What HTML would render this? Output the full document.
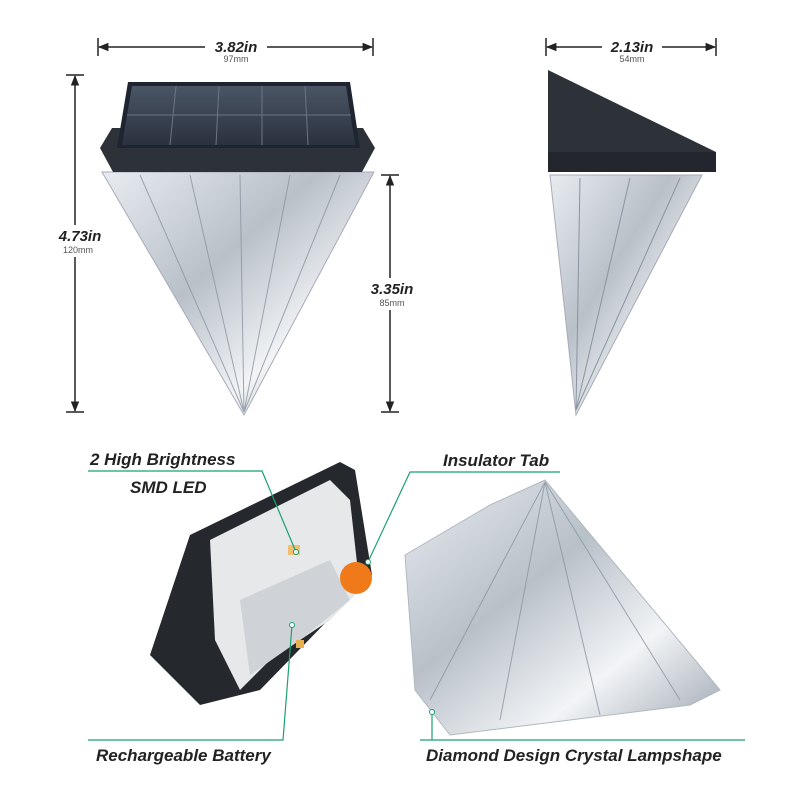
<!DOCTYPE html>
<html><head><meta charset="utf-8"><style>
html,body{margin:0;padding:0;background:#fff}
svg{display:block}
.b{font-family:"Liberation Sans",sans-serif;font-weight:bold;font-style:italic;fill:#222}
.s{font-family:"Liberation Sans",sans-serif;fill:#555;font-size:9px}
</style></head><body>
<svg width="800" height="800" viewBox="0 0 800 800" xmlns="http://www.w3.org/2000/svg">
<defs>
<linearGradient id="cr" x1="0" y1="0" x2="1" y2="1">
<stop offset="0" stop-color="#e8ecf0"/><stop offset="0.4" stop-color="#b8c0c8"/><stop offset="0.7" stop-color="#f2f4f6"/><stop offset="1" stop-color="#9aa4ae"/></linearGradient>
<linearGradient id="sol" x1="0" y1="0" x2="0" y2="1"><stop offset="0" stop-color="#4a5565"/><stop offset="1" stop-color="#2a323e"/></linearGradient>
<marker id="ar" viewBox="0 0 10 10" refX="9" refY="5" markerWidth="7" markerHeight="7" orient="auto-start-reverse"><path d="M0,1 L10,5 L0,9 z" fill="#222"/></marker>
</defs>
<!-- dimension lines -->
<g stroke="#222" stroke-width="1.5">
<line x1="99" y1="47" x2="372" y2="47" marker-start="url(#ar)" marker-end="url(#ar)"/>
<line x1="98" y1="38" x2="98" y2="56"/><line x1="373" y1="38" x2="373" y2="56"/>
<line x1="547" y1="47" x2="715" y2="47" marker-start="url(#ar)" marker-end="url(#ar)"/>
<line x1="546" y1="38" x2="546" y2="56"/><line x1="716" y1="38" x2="716" y2="56"/>
<line x1="75" y1="76" x2="75" y2="411" marker-start="url(#ar)" marker-end="url(#ar)"/>
<line x1="66" y1="75" x2="84" y2="75"/><line x1="66" y1="412" x2="84" y2="412"/>
<line x1="390" y1="176" x2="390" y2="411" marker-start="url(#ar)" marker-end="url(#ar)"/>
<line x1="381" y1="175" x2="399" y2="175"/><line x1="381" y1="412" x2="399" y2="412"/>
</g>
<rect x="205" y="38" width="62" height="28" fill="#fff"/>
<text class="b" x="236" y="52" font-size="15" text-anchor="middle">3.82in</text>
<text class="s" x="236" y="62" text-anchor="middle">97mm</text>
<rect x="602" y="38" width="60" height="28" fill="#fff"/>
<text class="b" x="632" y="52" font-size="15" text-anchor="middle">2.13in</text>
<text class="s" x="632" y="62" text-anchor="middle">54mm</text>
<rect x="50" y="225" width="56" height="32" fill="#fff"/>
<text class="b" x="80" y="241" font-size="15" text-anchor="middle">4.73in</text>
<text class="s" x="78" y="253" text-anchor="middle">120mm</text>
<rect x="364" y="278" width="56" height="32" fill="#fff"/>
<text class="b" x="392" y="294" font-size="15" text-anchor="middle">3.35in</text>
<text class="s" x="392" y="306" text-anchor="middle">85mm</text>
<!-- front lamp -->
<polygon points="102,172 374,172 244,415" fill="url(#cr)" stroke="#aab" stroke-width="1"/>
<g stroke="#8a94a0" stroke-width="1" fill="none" opacity="0.8">
<line x1="140" y1="175" x2="244" y2="412"/><line x1="190" y1="175" x2="244" y2="412"/>
<line x1="240" y1="175" x2="244" y2="412"/><line x1="290" y1="175" x2="244" y2="412"/>
<line x1="340" y1="175" x2="244" y2="412"/>
</g>
<polygon points="100,148 112,128 363,128 375,148 362,172 113,172" fill="#2d3138"/>
<polygon points="128,82 350,82 360,148 117,148" fill="#1e2530"/>
<polygon points="132,86 346,86 355,145 122,145" fill="url(#sol)"/>
<g stroke="#6a7585" stroke-width="1"><line x1="176" y1="86" x2="170" y2="145"/><line x1="219" y1="86" x2="216" y2="145"/><line x1="262" y1="86" x2="262" y2="145"/><line x1="305" y1="86" x2="308" y2="145"/><line x1="127" y1="115" x2="351" y2="115"/></g>
<!-- side lamp -->
<polygon points="548,70 548,152 716,152" fill="#2d3138"/>
<rect x="548" y="152" width="168" height="20" fill="#23272d"/>
<polygon points="550,175 702,175 576,415" fill="url(#cr)" stroke="#aab"/>
<g stroke="#8a94a0" fill="none"><line x1="580" y1="178" x2="576" y2="410"/><line x1="630" y1="178" x2="576" y2="410"/><line x1="680" y1="178" x2="576" y2="410"/></g>
<!-- bottom left housing -->
<polygon points="190,535 340,462 355,470 372,575 260,690 200,705 150,655" fill="#25282d"/>
<polygon points="210,540 330,480 350,500 360,590 330,620 270,660 240,690 215,640" fill="#e6e8ea"/>
<polygon points="240,600 330,560 350,600 300,640 250,675" fill="#cfd3d7"/>
<rect x="288" y="545" width="12" height="10" fill="#f0c070"/>
<rect x="296" y="640" width="8" height="8" fill="#e8b050"/>
<circle cx="356" cy="578" r="16" fill="#f07a1a"/>
<!-- bottom right crystal -->
<polygon points="405,555 490,505 545,480 720,690 690,705 450,735 415,690" fill="url(#cr)" stroke="#b0b8c0"/>
<g stroke="#8a94a0" fill="none" opacity="0.8"><line x1="545" y1="482" x2="430" y2="700"/><line x1="545" y1="482" x2="500" y2="720"/><line x1="545" y1="482" x2="600" y2="715"/><line x1="545" y1="482" x2="680" y2="700"/></g>
<!-- labels -->
<g stroke="#1aa071" stroke-width="1.2" fill="none">
<polyline points="88,471 262,471 296,552"/>
<polyline points="560,472 410,472 368,562"/>
<polyline points="88,740 283,740 292,625"/>
<polyline points="420,740 745,740"/><line x1="432" y1="740" x2="432" y2="712"/>
</g>
<circle cx="296" cy="552" r="2.5" fill="#fff" stroke="#1aa071"/>
<circle cx="368" cy="562" r="2.5" fill="#fff" stroke="#1aa071"/>
<circle cx="292" cy="625" r="2.5" fill="#fff" stroke="#1aa071"/>
<circle cx="432" cy="712" r="2.5" fill="#fff" stroke="#1aa071"/>
<text class="b" x="90" y="465" font-size="17">2 High Brightness</text>
<text class="b" x="130" y="493" font-size="17">SMD LED</text>
<text class="b" x="443" y="466" font-size="17">Insulator Tab</text>
<text class="b" x="96" y="761" font-size="17">Rechargeable Battery</text>
<text class="b" x="426" y="761" font-size="17">Diamond Design Crystal Lampshape</text>
</svg>
</body></html>
